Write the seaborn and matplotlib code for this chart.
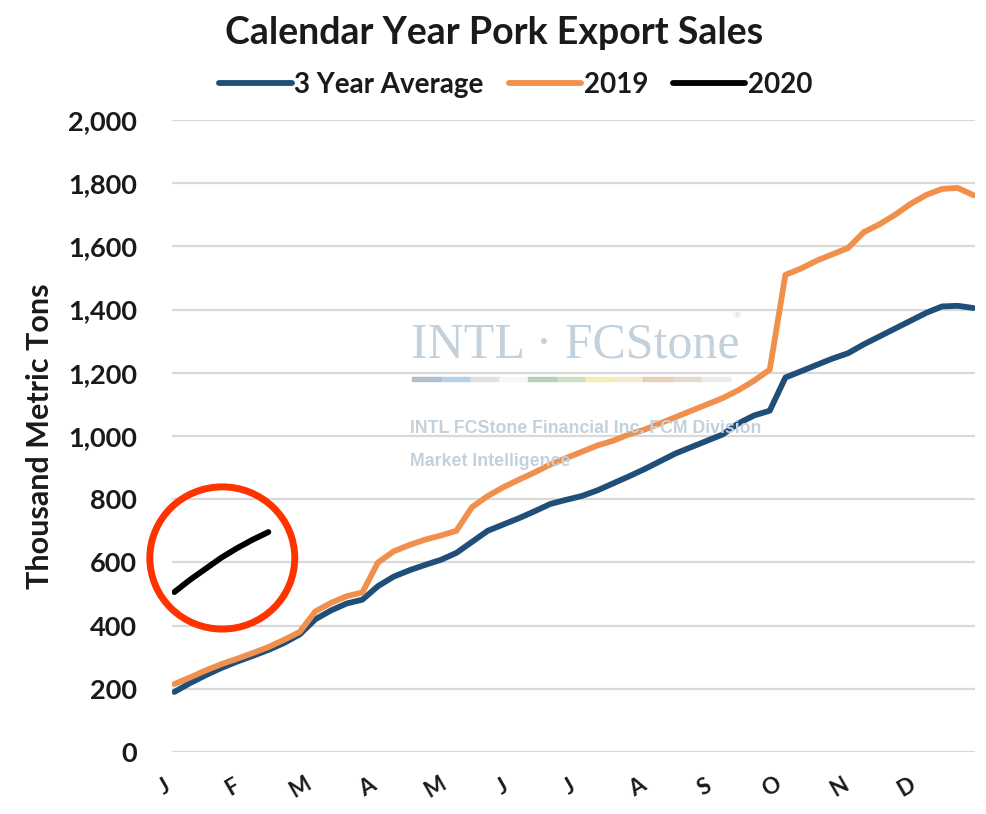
import numpy as np
import pandas as pd
import matplotlib
matplotlib.use("Agg")
import matplotlib.pyplot as plt
from matplotlib.patches import Ellipse, Rectangle
from matplotlib.lines import Line2D
import seaborn as sns

# ---------------- data ----------------
weeks = list(range(52))
avg3 = [190, 218, 243, 266, 286, 304, 323, 345, 372, 420,
        448, 470, 482, 525, 555, 575, 592, 608, 630, 665,
        700, 720, 740, 762, 785, 798, 810, 828, 850, 872,
        895, 920, 945, 965, 985, 1005, 1040, 1065, 1080, 1185,
        1205, 1225, 1245, 1262, 1290, 1315, 1340, 1365, 1390, 1410,
        1412, 1405]
y2019 = [215, 236, 258, 278, 295, 313, 332, 355, 380, 445,
         472, 493, 505, 600, 635, 655, 672, 685, 700, 775,
         810, 838, 862, 885, 910, 930, 950, 970, 985, 1005,
         1020, 1040, 1060, 1080, 1100, 1120, 1145, 1175, 1210, 1510,
         1530, 1555, 1575, 1595, 1645, 1670, 1700, 1735, 1763, 1782,
         1785, 1762]
weeks2020 = [0, 1, 2, 3, 4, 5, 6]
y2020 = [506, 545, 580, 615, 645, 672, 696]

month_labels = ["J", "F", "M", "A", "M", "J", "J", "A", "S", "O", "N", "D"]
month_ticks = [0.15, 4.5, 8.8, 13.1, 17.4, 21.7, 26.0, 30.3, 34.6, 38.9, 43.2, 47.5]
yticks = [0, 200, 400, 600, 800, 1000, 1200, 1400, 1600, 1800, 2000]

title = "Calendar Year Pork Export Sales"
series_names = ["3 Year Average", "2019", "2020"]
ylabel = "Thousand Metric Tons"

df = pd.concat([
    pd.DataFrame({"week": weeks, "value": avg3, "series": series_names[0]}),
    pd.DataFrame({"week": weeks, "value": y2019, "series": series_names[1]}),
    pd.DataFrame({"week": weeks2020, "value": y2020, "series": series_names[2]}),
])

# ---------------- style ----------------
sns.set_theme(style="white")
FONT = ["Lato", "DejaVu Sans"]
plt.rcParams["font.family"] = FONT

colors = {"3 Year Average": "#1f4e79", "2019": "#f0904c", "2020": "#000000"}
txt_col = "#1a1a1a"

fig = plt.figure(figsize=(9.87, 8.14), dpi=100)
ax = fig.add_axes([172 / 987, 1 - 752 / 814, (975 - 172) / 987, (752 - 120) / 814])

# watermark
wm_col = "#c3d1dc"
fig.text(411 / 987, 1 - 358 / 814, "INTL \u00b7 FCStone", family=["Liberation Serif", "DejaVu Serif"],
         fontsize=36, color=wm_col, ha="left", va="baseline", zorder=0)
fig.text(733 / 987, 1 - 318 / 814, "\u00ae", family=["Liberation Serif", "DejaVu Serif"],
         fontsize=8, color=wm_col, ha="left", va="baseline", zorder=0)
strip_cols = ["#9fb3c4", "#a9c9e2", "#d6dde2", "#f4f6f7", "#a9cba6", "#c4dcb8",
              "#efeaa6", "#f5e7c2", "#e2c7ad", "#ddd5cc", "#ebe9e4"]
sw = (730 - 412) / len(strip_cols)
for i, c in enumerate(strip_cols):
    fig.patches.append(Rectangle(((412 + i * sw) / 987, 1 - 381 / 814), sw / 987, 4 / 814,
                                 transform=fig.transFigure, color=c, alpha=0.8, zorder=0))
fig.text(410 / 987, 1 - 433 / 814, "INTL FCStone Financial Inc. FCM Division",
         family=["Liberation Sans Narrow", "Liberation Sans", "DejaVu Sans"], fontweight="bold",
         fontsize=12.8, color=wm_col, ha="left", va="baseline", zorder=0)
fig.text(410 / 987, 1 - 466 / 814, "Market Intelligence",
         family=["Liberation Sans Narrow", "Liberation Sans", "DejaVu Sans"], fontweight="bold",
         fontsize=12.8, color=wm_col, ha="left", va="baseline", zorder=0)
ax.patch.set_alpha(0)

sns.lineplot(data=df, x="week", y="value", hue="series", palette=colors,
             hue_order=series_names, linewidth=4.2, ax=ax, legend=False, zorder=3)

# red circle annotation
ax.add_patch(Ellipse((3.06, 614), width=9.25, height=450, fill=False,
                     edgecolor="#ff3300", linewidth=5, zorder=4, clip_on=False))

ax.set_xlim(-0.15, 51.1)
ax.set_ylim(0, 2000)
ax.set_yticks(yticks)
ax.set_yticklabels([f"{v:,}" for v in yticks], fontweight="bold", fontsize=19.5, color=txt_col)
ax.set_xticks([])
for pos, lab in zip(month_ticks, month_labels):
    ax.annotate(lab, xy=(pos, 0), xycoords=("data", "axes fraction"),
                xytext=(-12, -35), textcoords="offset pixels",
                rotation=30, ha="center", va="center", fontweight="bold",
                fontsize=16, color=txt_col, annotation_clip=False)
ax.tick_params(axis="y", length=0, pad=25)
ax.grid(axis="y", color="#d9d9d9", linewidth=1.6, zorder=0)
ax.grid(axis="x", visible=False)
for s in ax.spines.values():
    s.set_visible(False)
ax.set_xlabel("")
ax.set_ylabel(ylabel, fontweight="bold", fontsize=22, color=txt_col, labelpad=10)

fig.text(494 / 987, 1 - 33 / 814, title, ha="center", va="center",
         fontsize=27, fontweight="bold", color=txt_col)

handles = [Line2D([], [], color=colors[n], linewidth=4.2) for n in series_names]
fig.legend(handles, series_names, loc="center", bbox_to_anchor=(516 / 987, 1 - 85 / 814),
           ncol=3, frameon=False, handlelength=2.6, handletextpad=0.1, columnspacing=0.9,
           prop={"weight": "bold", "size": 20, "family": FONT}, labelcolor=txt_col)

fig.savefig("out.png", dpi=100)
